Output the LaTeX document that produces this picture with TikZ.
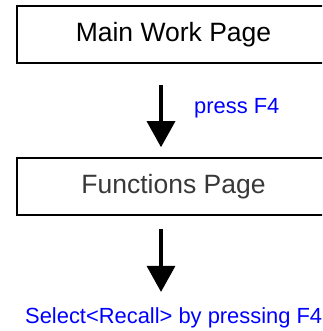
\documentclass[tikz,border=0pt]{standalone}
\usepackage{fontspec}
\setmainfont{Liberation Sans}
\usepackage{xcolor}
\usetikzlibrary{arrows.meta,positioning,calc}

\begin{document}
\begin{tikzpicture}[x=1pt, y=-1pt,
  pagebox/.style={draw, line width=1.6pt, minimum width=313pt, minimum height=57pt,
    inner sep=0pt, font=\fontsize{26.5}{30}\selectfont},
  hint/.style={text=blue, font=\fontsize{21.9}{25}\selectfont, inner sep=0pt, anchor=base west},
  flow/.style={line width=3.3pt, -{Triangle[width=28pt,length=26pt]}}]
  \useasboundingbox (0,0) rectangle (322,331);
  \clip (0,0) rectangle (322,331);

  % Pages
  \node[pagebox] (mainpage) at (173.5,34.5) {Main Work Page};
  \node[pagebox, text=black!78] (funcpage) at (173.5,186.5) {Functions Page};

  % Key hints
  \node[hint] (pressf4) at (194,113.3) {press F4};
  \node[hint] (select) at (25,323) {Select<Recall> by pressing F4};

  % Arrows
  \coordinate (down1) at (161,63);
  \coordinate (down2) at (161,215);
  \draw[flow, shorten <=22pt, shorten >=10pt] (down1) -- (down1 |- funcpage.north);
  \draw[flow, shorten <=14pt, shorten >=15pt] (down2) -- (down2 |- select.north);
\end{tikzpicture}
\end{document}
